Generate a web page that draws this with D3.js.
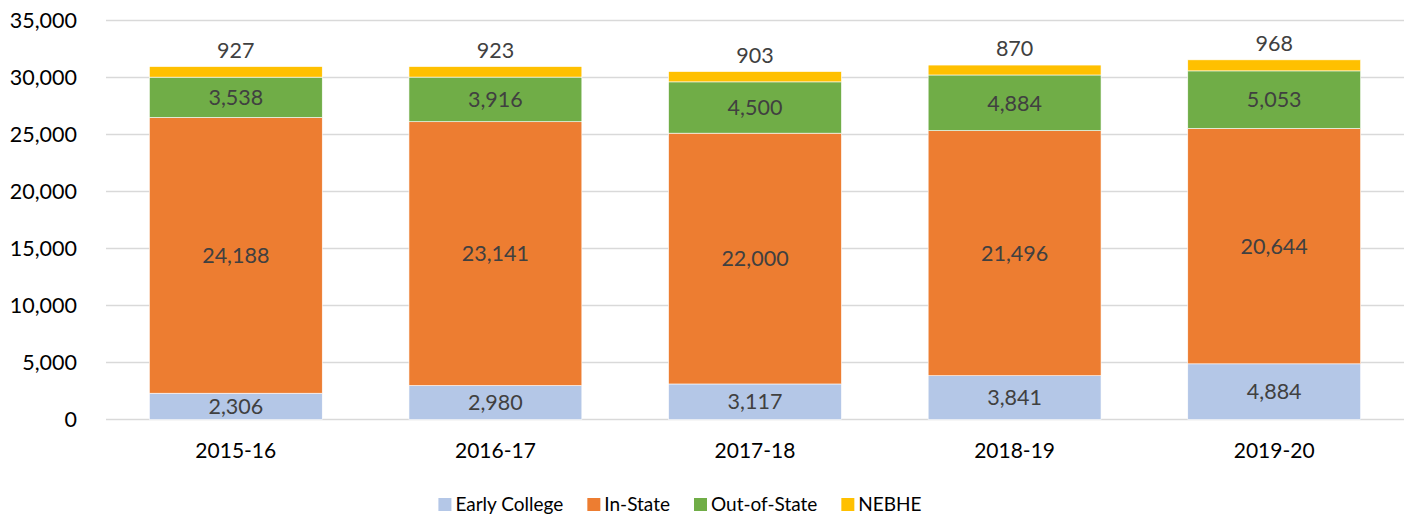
<!DOCTYPE html>
<html>
<head>
<meta charset="utf-8">
<script src="https://cdn.jsdelivr.net/npm/d3@7"></script>
<style>
  body { margin: 0; background: #fff; }
  svg { display: block; font-family: Lato, "Open Sans", sans-serif; }
</style>
</head>
<body>
<svg id="chart"></svg>
<script>
// Chart data
const years = ["2015-16", "2016-17", "2017-18", "2018-19", "2019-20"];
const seriesNames = ["Early College", "In-State", "Out-of-State", "NEBHE"];
const earlyCollege = [2306, 2980, 3117, 3841, 4884];
const inState = [24188, 23141, 22000, 21496, 20644];
const outOfState = [3538, 3916, 4500, 4884, 5053];
const nebhe = [927, 923, 903, 870, 968];
const yTicks = [0, 5000, 10000, 15000, 20000, 25000, 30000, 35000];

const colors = ["#B4C7E7", "#ED7D31", "#70AD47", "#FFC000"];

const width = 1414, height = 514;
const margin = {top: 20.5, right: 10, bottom: 94.5, left: 106};

const svg = d3.select("#chart")
    .attr("width", width)
    .attr("height", height);

// Build table for stacking
const table = years.map((y, i) => ({
    year: y,
    "Early College": earlyCollege[i],
    "In-State": inState[i],
    "Out-of-State": outOfState[i],
    "NEBHE": nebhe[i]
}));

const stacked = d3.stack().keys(seriesNames)(table);

const x = d3.scaleBand()
    .domain(years)
    .range([margin.left, width - margin.right])
    .paddingInner(0.334)
    .paddingOuter(0.167);

const y = d3.scaleLinear()
    .domain([0, 35000])
    .range([height - margin.bottom, margin.top]);

const color = d3.scaleOrdinal().domain(seriesNames).range(colors);
const fmt = d3.format(",");

// Gridlines
svg.append("g")
    .selectAll("line")
    .data(yTicks)
    .join("line")
    .attr("x1", margin.left)
    .attr("x2", width - margin.right)
    .attr("y1", d => y(d))
    .attr("y2", d => y(d))
    .attr("stroke", "#D9D9D9")
    .attr("stroke-width", 1.3);

// Y axis labels
svg.append("g")
    .selectAll("text")
    .data(yTicks)
    .join("text")
    .attr("x", 77)
    .attr("y", d => y(d))
    .attr("dy", "0.36em")
    .attr("text-anchor", "end")
    .attr("font-size", "21.5px")
    .attr("fill", "#000")
    .text(d => fmt(d));

// Bars
const layer = svg.append("g")
    .selectAll("g")
    .data(stacked)
    .join("g")
    .attr("fill", d => color(d.key));

layer.selectAll("rect")
    .data(d => d)
    .join("rect")
    .attr("x", d => x(d.data.year))
    .attr("width", x.bandwidth())
    .attr("y", d => y(d[1]))
    .attr("height", d => y(d[0]) - y(d[1]))
    .attr("stroke", "#fff")
    .attr("stroke-width", 0.6);

// Data labels
svg.append("g")
    .selectAll("g")
    .data(stacked)
    .join("g")
    .each(function(s) {
        const last = s.key === "NEBHE";
        d3.select(this).selectAll("text")
            .data(s)
            .join("text")
            .attr("x", d => x(d.data.year) + x.bandwidth() / 2)
            .attr("y", d => last ? y(d[1]) - 9 : (y(d[0]) + y(d[1])) / 2)
            .attr("dy", last ? 0 : "0.36em")
            .attr("text-anchor", "middle")
            .attr("font-size", "21.5px")
            .attr("fill", "#404040")
            .text(d => fmt(d[1] - d[0]));
    });

// X axis labels
svg.append("g")
    .selectAll("text")
    .data(years)
    .join("text")
    .attr("x", d => x(d) + x.bandwidth() / 2)
    .attr("y", 458)
    .attr("text-anchor", "middle")
    .attr("font-size", "21px")
    .attr("fill", "#000")
    .text(d => d);

// Legend
const legend = svg.append("g");
const items = legend.selectAll("g")
    .data(seriesNames)
    .join("g");

items.append("rect")
    .attr("width", 13)
    .attr("height", 13)
    .attr("y", 498)
    .attr("fill", d => color(d));

items.append("text")
    .attr("x", 17)
    .attr("y", 511)
    .attr("font-size", "19px")
    .attr("fill", "#000")
    .text(d => d);

// Lay out legend items horizontally, centred
let offset = 0;
const gap = 24;
const widths = [];
items.each(function() {
    widths.push(d3.select(this).select("text").node().getComputedTextLength() + 17);
});
const total = d3.sum(widths) + gap * (widths.length - 1);
const start = 680 - total / 2;
items.attr("transform", (d, i) => {
    const t = `translate(${start + offset},0)`;
    offset += widths[i] + gap;
    return t;
});
</script>
</body>
</html>
